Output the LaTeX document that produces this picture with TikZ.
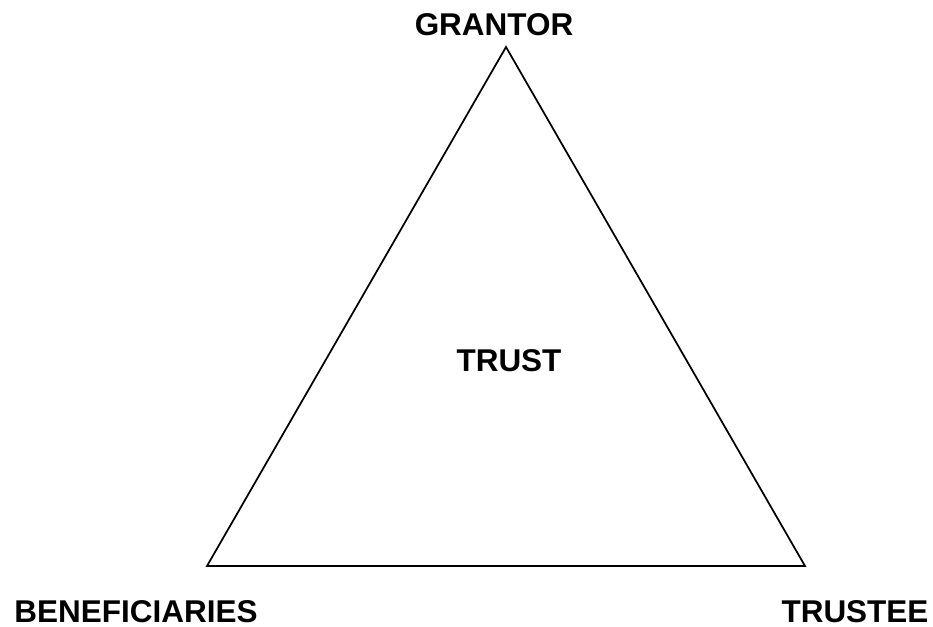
\documentclass[tikz,border=0pt]{standalone}
\usepackage{fontspec}
\setmainfont{Liberation Sans}

\begin{document}
\begin{tikzpicture}[x=0.75pt, y=-0.75pt, line width=1.3pt,
  party/.style={font=\fontsize{23.6}{28}\selectfont\bfseries, inner sep=0pt, anchor=base}]
  \useasboundingbox (0,0) rectangle (933,627);

  \coordinate (G) at (506,47);
  \coordinate (B) at (207,566);
  \coordinate (T) at (805,566);

  \draw[line join=miter] (G)--(T)--(B)--cycle;

  % labels
  \node[party] (grantor) at (494,36) {GRANTOR};
  \node[party] (trust)   at (509,372) {TRUST};
  \node[party] (benef)   at (136,623) {BENEFICIARIES};
  \node[party] (trustee) at (855,623) {TRUSTEE};
\end{tikzpicture}
\end{document}
